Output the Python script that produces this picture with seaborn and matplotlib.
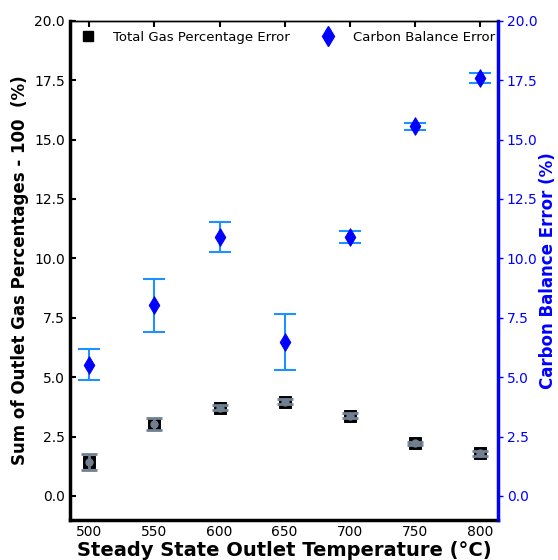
import matplotlib
matplotlib.use("Agg")
import matplotlib.pyplot as plt
import seaborn as sns
import pandas as pd
from matplotlib.lines import Line2D

temps = [500, 550, 600, 650, 700, 750, 800]
gas_err = [1.42, 3.02, 3.72, 3.97, 3.38, 2.21, 1.79]
gas_sd = [0.33, 0.26, 0.10, 0.12, 0.10, 0.08, 0.10]
carbon_err = [5.52, 8.02, 10.88, 6.47, 10.90, 15.55, 17.60]
carbon_sd = [0.66, 1.12, 0.63, 1.18, 0.25, 0.15, 0.22]

df = pd.DataFrame({"T": temps, "gas": gas_err, "gas_sd": gas_sd,
                   "carbon": carbon_err, "carbon_sd": carbon_sd})

sns.set_style("white")
plt.rcParams['font.family'] = ['DejaVu Sans']
plt.rcParams['text.color'] = 'black'
plt.rcParams['axes.labelcolor'] = 'black'
plt.rcParams['xtick.color'] = 'black'
plt.rcParams['ytick.color'] = 'black'
plt.rcParams['axes.edgecolor'] = 'black'

fig, ax = plt.subplots(figsize=(5.58, 5.60), dpi=100)
ax2 = ax.twinx()

sns.scatterplot(data=df, x="T", y="gas", ax=ax, marker="s", color="black",
                s=70, edgecolor="black", zorder=3, legend=False)
ax.errorbar(df["T"], df["gas"], yerr=df["gas_sd"], fmt="o", color="slategray",
            ms=5, capsize=5.5, elinewidth=2, capthick=2, zorder=4)

sns.scatterplot(data=df, x="T", y="carbon", ax=ax2, marker="d", color="blue",
                s=80, edgecolor="blue", zorder=3, legend=False)
ax2.errorbar(df["T"], df["carbon"], yerr=df["carbon_sd"], fmt="none",
             ecolor="dodgerblue", capsize=8, elinewidth=1.5, capthick=1.5, zorder=2)

for a in (ax, ax2):
    a.set_ylim(-1, 20)
    a.set_yticks([0, 2.5, 5, 7.5, 10, 12.5, 15, 17.5, 20])
    a.set_yticklabels(["0.0", "2.5", "5.0", "7.5", "10.0", "12.5", "15.0", "17.5", "20.0"])
ax.set_xlim(485, 814)
ax.set_xticks(temps)

ax.set_xlabel("Steady State Outlet Temperature (°C)", fontsize=14, fontweight="bold", labelpad=2)
ax.set_ylabel("Sum of Outlet Gas Percentages - 100  (%)", fontsize=12, fontweight="bold")
ax2.set_ylabel("Carbon Balance Error (%)", fontsize=12, fontweight="bold", color="blue",
               labelpad=1)

ax.tick_params(axis="both", direction="in", labelsize=10, length=4, width=1.5, top=True)
ax2.tick_params(axis="y", direction="out", labelsize=10, length=3.5, width=1, colors="blue",
                pad=2.5)
for s in ["left", "bottom"]:
    ax.spines[s].set_linewidth(2.5)
ax.spines["top"].set_linewidth(1)
ax2.spines["right"].set_color("blue")
ax2.spines["right"].set_linewidth(2.5)
ax2.spines["left"].set_visible(False)
ax2.spines["top"].set_linewidth(1)

handles = [Line2D([], [], marker="s", color="black", ls="none", ms=7),
           Line2D([], [], marker="d", color="blue", ls="none", ms=10)]
ax.legend(handles, ["Total Gas Percentage Error", "Carbon Balance Error"],
          loc="upper left", ncol=2, frameon=False, fontsize=9.5,
          bbox_to_anchor=(0.0, 0.99), columnspacing=1.9, handletextpad=0.9,
          borderaxespad=0.0)

fig.subplots_adjust(left=0.125, right=0.893, top=0.963, bottom=0.072)
fig.savefig("out.png", dpi=100)
